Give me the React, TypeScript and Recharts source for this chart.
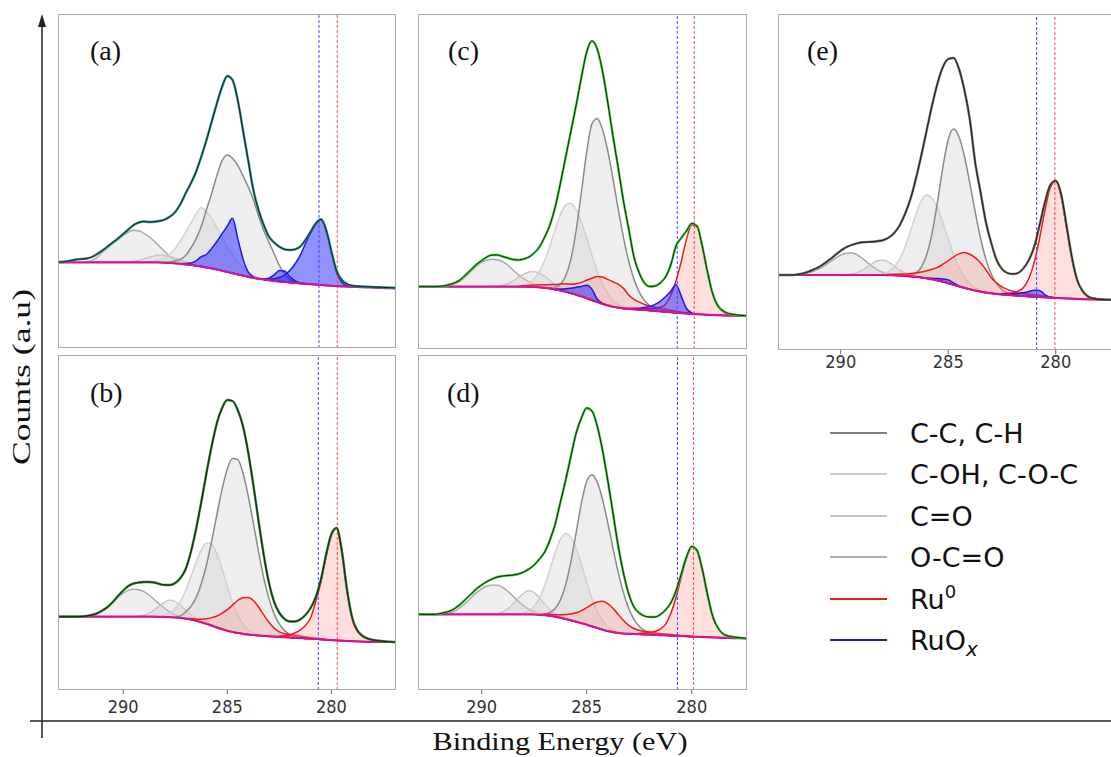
import React from "react";
import { ComposedChart, Area, Line, XAxis, YAxis, ReferenceLine } from "recharts";

type Pt = [number, number];

// binding energy grid (eV), left to right
const energy = [
  293.25, 293, 292.75, 292.5, 292.25, 292, 291.75, 291.5, 291.25, 291,
  290.75, 290.5, 290.25, 290, 289.75, 289.5, 289.25, 289, 288.75, 288.5,
  288.25, 288, 287.75, 287.5, 287.25, 287, 286.75, 286.5, 286.25, 286,
  285.75, 285.5, 285.25, 285, 284.75, 284.5, 284.25, 284, 283.75, 283.5,
  283.25, 283, 282.75, 282.5, 282.25, 282, 281.75, 281.5, 281.25, 281,
  280.75, 280.5, 280.25, 280, 279.75, 279.5, 279.25, 279, 278.75, 278.5,
  278.25, 278, 277.75, 277.5, 277.25, 277, 276.75,
];
const energyTicks = [290, 285, 280];

// ---------- (a) ----------
const bgA = [
  85.7, 85.7, 85.7, 85.7, 85.7, 85.7, 85.7, 85.7, 85.7, 85.7,
  85.7, 85.7, 85.7, 85.7, 85.7, 85.7, 85.7, 85.7, 85.7, 85.7,
  85.5, 85.3, 85, 84.6, 84.2, 83.6, 83, 82.2, 81.4, 80.5,
  79.6, 78.5, 77.3, 76, 74.8, 73.6, 72.4, 71.2, 70.2, 69.3,
  68.5, 67.8, 67.2, 66.5, 66, 65.5, 65, 64.6, 64.2, 63.8,
  63.4, 63, 62.6, 62.2, 61.9, 61.6, 61.4, 61.2, 61, 60.8,
  60.6, 60.4, 60.2, 60, 59.8, 59.7, 59.6,
];
const envA = [
  86, 86, 86.5, 87.5, 88.5, 89, 89.5, 91, 94, 97.5,
  101.5, 105.5, 109.5, 114, 118.5, 123, 125.5, 126.5, 126, 126.3,
  127, 128.5, 131.5, 136, 144, 154.7, 164.7, 176.3, 191.3, 208,
  226.3, 244.7, 261.3, 272, 268, 248, 218, 188, 158, 138,
  123, 111.3, 105.3, 101.3, 98.7, 98, 98.7, 101.3, 108, 116.3,
  124.7, 128.7, 118, 96.3, 77, 68, 64, 62.3, 61.8, 61.5,
  61.2, 61, 60.8, 60.6, 60.4, 60.2, 60,
];
const ocoA: Pt[] = [[291.75, 0.5], [291.5, 2], [291.25, 5], [291, 10], [290.75, 14.5], [290.5, 19], [290.25, 23], [290, 27], [289.75, 30], [289.5, 32], [289.25, 31.5], [289, 29], [288.75, 25.5], [288.5, 21], [288.25, 16], [288, 11], [287.75, 6.5], [287.5, 3.5], [287.25, 1.5], [287, 0]];
const coA: Pt[] = [[289.75, 0], [289.5, 1], [289.25, 2], [289, 3.5], [288.75, 5], [288.5, 6.5], [288.25, 7.5], [288, 7.3], [287.75, 6.5], [287.5, 5.3], [287.25, 4], [287, 2.7], [286.75, 1.6], [286.5, 0.8], [286.25, 0]];
const cohA: Pt[] = [[288.5, 1], [288.25, 2.5], [288, 5], [287.75, 9], [287.5, 15], [287.25, 23], [287, 32], [286.75, 42], [286.5, 52], [286.25, 59], [286, 56], [285.75, 50], [285.5, 42], [285.25, 33], [285, 25], [284.75, 19], [284.5, 13], [284.25, 8.5], [284, 5], [283.75, 2.5], [283.5, 1], [283.25, 0]];
const ccA: Pt[] = [[288, 0], [287.75, 1], [287.5, 2.5], [287.25, 4.5], [287, 9], [286.75, 17], [286.5, 27], [286.25, 40], [286, 58], [285.75, 75], [285.5, 94], [285.25, 110], [285, 117], [284.75, 115], [284.5, 109], [284.25, 100], [284, 90], [283.75, 78], [283.5, 63], [283.25, 49], [283, 38], [282.75, 27], [282.5, 16], [282.25, 8], [282, 3], [281.75, 1], [281.5, 0]];
const ruoxHighA: Pt[] = [[287.25, 0], [287, 1], [286.75, 2], [286.5, 5], [286.25, 10], [286, 13], [285.75, 20], [285.5, 28], [285.25, 37], [285, 46], [284.75, 55], [284.5, 36], [284.25, 17], [284, 5], [283.75, 1], [283.5, 0]];
const ruoxMidA: Pt[] = [[283.5, 0], [283.25, 0.5], [283, 2], [282.75, 6], [282.5, 11], [282.25, 11], [282, 6], [281.75, 2], [281.5, 0.5], [281.25, 0]];
const ruoxLowA: Pt[] = [[283.25, 0], [283, 1], [282.75, 2], [282.5, 4], [282.25, 7], [282, 12], [281.75, 19], [281.5, 28], [281.25, 40], [281, 51], [280.75, 60], [280.5, 65], [280.25, 54], [280, 34], [279.75, 13], [279.5, 4], [279.25, 1], [279, 0]];

// ---------- (b) ----------
const bgB = [
  73.3, 73.3, 73.3, 73.3, 73.3, 73.3, 73.3, 73.3, 73.3, 73.3,
  73.3, 73.3, 73.3, 73.3, 73.3, 73.3, 73.3, 73.3, 73.3, 73.3,
  73.2, 73, 72.8, 72.5, 72, 71.3, 70.5, 69.3, 67.8, 66.2,
  64.4, 62.5, 60.8, 59.3, 58, 57, 56.2, 55.5, 55, 54.5,
  54.1, 53.7, 53.4, 53.1, 52.8, 52.5, 52.2, 51.9, 51.6, 51.3,
  51, 50.6, 50.2, 49.9, 49.6, 49.3, 49, 48.8, 48.6, 48.4,
  48.2, 48.1, 48, 48, 48, 48, 48,
];
const envB = [
  73.3, 73.3, 73.3, 73.3, 73.3, 73.5, 74, 75, 76.7, 79.5,
  83, 88, 94, 99.5, 104, 106.5, 107.5, 108, 108, 107.5,
  106, 105, 105, 107, 112, 121, 138, 161, 188, 217,
  244, 267, 282, 290, 289, 280, 264, 238, 205, 169,
  135, 107, 88, 77, 71, 68.5, 68.5, 70.5, 75, 82,
  93, 111, 136, 156, 162, 139, 100, 72, 59.5, 54,
  51.3, 50, 49.3, 48.7, 48.3, 48, 48,
];
const ocoB: Pt[] = [[291.75, 0.5], [291.5, 1.5], [291.25, 3.5], [291, 6.5], [290.75, 9.5], [290.5, 14.5], [290.25, 19.5], [290, 23.5], [289.75, 26.3], [289.5, 27.4], [289.25, 27], [289, 25], [288.75, 21.5], [288.5, 17], [288.25, 12.5], [288, 8.5], [287.75, 5], [287.5, 2.5], [287.25, 1], [287, 0]];
const coB: Pt[] = [[289.25, 0.5], [289, 1.5], [288.75, 3.5], [288.5, 7], [288.25, 11], [288, 15], [287.75, 17], [287.5, 16], [287.25, 12.5], [287, 8.5], [286.75, 5], [286.5, 2.5], [286.25, 1], [286, 0]];
const cohB: Pt[] = [[288.25, 0.5], [288, 1.9], [287.75, 4.3], [287.5, 9], [287.25, 16.7], [287, 28], [286.75, 42.7], [286.5, 58.5], [286.25, 72.3], [286, 80.7], [285.75, 81.2], [285.5, 73.8], [285.25, 60.4], [285, 44.6], [284.75, 29.8], [284.5, 17.9], [284.25, 9.7], [284, 4.8], [283.75, 2.1], [283.5, 0.8], [283.25, 0]];
const ccB: Pt[] = [[287.5, 0.5], [287.25, 2], [287, 6.8], [286.75, 13], [286.5, 23], [286.25, 38.4], [286, 59], [285.75, 84.7], [285.5, 113], [285.25, 140], [285, 161.7], [284.75, 173.6], [284.5, 173.3], [284.25, 161], [284, 139], [283.75, 111.8], [283.5, 83.6], [283.25, 58], [283, 37.7], [282.75, 22.7], [282.5, 12.7], [282.25, 6.6], [282, 3.2], [281.75, 1.4], [281.5, 0.5], [281.25, 0]];
const ruHighB: Pt[] = [[287, 0], [286.75, 1], [286.5, 1.5], [286.25, 3], [286, 5], [285.75, 8], [285.5, 11.5], [285.25, 16], [285, 21], [284.75, 27], [284.5, 32.5], [284.25, 36], [284, 37], [283.75, 34.5], [283.5, 28.5], [283.25, 21], [283, 14], [282.75, 8.5], [282.5, 5], [282.25, 3.5], [282, 3], [281.75, 2.5], [281.5, 2], [281.25, 1.5], [281, 1], [280.75, 0.7], [280.5, 0.4], [280.25, 0.2], [280, 0]];
const ruLowB: Pt[] = [[282.5, 1], [282.25, 1.5], [282, 2.5], [281.75, 5], [281.5, 8], [281.25, 13], [281, 21], [280.75, 38], [280.5, 58], [280.25, 84], [280, 105], [279.75, 112.6], [279.5, 89], [279.25, 50], [279, 22], [278.75, 10], [278.5, 5], [278.25, 3], [278, 2], [277.75, 1.3], [277.5, 0.7], [277.25, 0.3], [277, 0]];

// ---------- (c) ----------
const bgC = [
  62.3, 62.3, 62.3, 62.3, 62.3, 62.3, 62.3, 62.3, 62.3, 62.3,
  62.3, 62.3, 62.3, 62.3, 62.3, 62.3, 62.3, 62.3, 62.3, 62.3,
  62.3, 62.3, 62.2, 62, 61.7, 61.2, 60.5, 59.6, 58.5, 57.2,
  55.8, 54.3, 52.6, 50.8, 48.8, 47, 45.2, 43.6, 42.3, 41.3,
  40.6, 40.1, 39.7, 39.3, 39, 38.6, 38.2, 37.7, 37.2, 36.8,
  36.3, 35.9, 35.5, 35.1, 34.8, 34.5, 34.2, 34, 33.8, 33.6,
  33.4, 33.3, 33.2, 33.1, 33, 33, 33,
];
const envC = [
  62.3, 62.3, 62.3, 62.3, 62.3, 62.6, 63.3, 64.5, 66.5, 69.5,
  74.5, 79.5, 84.5, 88.5, 92, 94, 94, 92.5, 91, 89.5,
  89, 90, 92, 96, 102, 112, 124, 142, 166, 192,
  218, 244, 272, 297, 308, 300, 278, 247, 213, 181,
  148, 120, 92, 76, 66, 62.5, 63, 66, 72, 84,
  103, 111, 118, 125.5, 123, 103, 77, 55, 43, 38,
  35.5, 34.5, 33.8, 33.4, 33.2, 33, 33,
];
const ocoC: Pt[] = [[291.75, 0.5], [291.5, 1.5], [291.25, 3], [291, 6], [290.75, 10.5], [290.5, 15.5], [290.25, 20.5], [290, 24.5], [289.75, 26.7], [289.5, 27.4], [289.25, 27], [289, 25], [288.75, 21.5], [288.5, 16.5], [288.25, 12], [288, 8], [287.75, 5], [287.5, 2.5], [287.25, 1], [287, 0]];
const coC: Pt[] = [[289.5, 0], [289.25, 0.5], [289, 1.5], [288.75, 3], [288.5, 6], [288.25, 9.5], [288, 12.5], [287.75, 14.8], [287.5, 15.3], [287.25, 14], [287, 11.5], [286.75, 8], [286.5, 5], [286.25, 2.5], [286, 1], [285.75, 0]];
const cohC: Pt[] = [[288.25, 0.5], [288, 1.7], [287.75, 4], [287.5, 8.4], [287.25, 16], [287, 27.5], [286.75, 42.8], [286.5, 60], [286.25, 76], [286, 87], [285.75, 90], [285.5, 85], [285.25, 74], [285, 60], [284.75, 45], [284.5, 31], [284.25, 19.7], [284, 11.6], [283.75, 6.3], [283.5, 3.2], [283.25, 1.5], [283, 0.6], [282.75, 0]];
const ccC: Pt[] = [[286.75, 0.5], [286.5, 2.1], [286.25, 6.3], [286, 15.8], [285.75, 34.4], [285.5, 64.7], [285.25, 104.8], [285, 146.3], [284.75, 176.3], [284.5, 183.5], [284.25, 174.5], [284, 154.7], [283.75, 128], [283.5, 98.8], [283.25, 71.1], [283, 47.8], [282.75, 30], [282.5, 17.5], [282.25, 9.6], [282, 4.9], [281.75, 2.3], [281.5, 1], [281.25, 0.4], [281, 0]];
const ruHighC: Pt[] = [[288.25, 0], [288, 1], [287.75, 1.5], [287.5, 2], [287.25, 2.5], [287, 3], [286.75, 4], [286.5, 5], [286.25, 6.5], [286, 8], [285.75, 9], [285.5, 11], [285.25, 14], [285, 18], [284.75, 22], [284.5, 25.5], [284.25, 26.7], [284, 26], [283.75, 25], [283.5, 23.5], [283.25, 20], [283, 14], [282.75, 10], [282.5, 7.5], [282.25, 5.5], [282, 4.5], [281.75, 3.5], [281.5, 3], [281.25, 2.5], [281, 2], [280.75, 1.5], [280.5, 1], [280.25, 0.5], [280, 0]];
const ruoxHighC: Pt[] = [[286.75, 0], [286.5, 0.5], [286.25, 1.5], [286, 3], [285.75, 5], [285.5, 7.5], [285.25, 10], [285, 13], [284.75, 11], [284.5, 3], [284.25, 0.5], [284, 0]];
const ruoxLowC: Pt[] = [[283.25, 0], [283, 0.5], [282.75, 1], [282.5, 1.5], [282.25, 2.5], [282, 4], [281.75, 6.5], [281.5, 10], [281.25, 15], [281, 21], [280.75, 28], [280.5, 17], [280.25, 5], [280, 1], [279.75, 0]];
const ruLowC: Pt[] = [[282.5, 0.5], [282.25, 1], [282, 1.6], [281.75, 2.5], [281.5, 4], [281.25, 7.5], [281, 17], [280.75, 32], [280.5, 51.5], [280.25, 74.4], [280, 89], [279.75, 87.4], [279.5, 68.4], [279.25, 42.5], [279, 21], [278.75, 9], [278.5, 3.5], [278.25, 1.5], [278, 0.8], [277.75, 0.4], [277.5, 0]];

// ---------- (d) ----------
const bgD = [
  75.7, 75.7, 75.7, 75.7, 75.7, 75.7, 75.7, 75.7, 75.7, 75.7,
  75.7, 75.7, 75.7, 75.7, 75.7, 75.7, 75.7, 75.7, 75.7, 75.7,
  75.7, 75.7, 75.7, 75.5, 75.2, 74.8, 74.2, 73.3, 72.2, 71,
  69.6, 68.2, 66.8, 65.3, 63.6, 62, 60.4, 58.9, 57.8, 57,
  56.5, 56.2, 56, 55.8, 55.6, 55.4, 55.2, 54.9, 54.7, 54.4,
  54.2, 54, 53.7, 53.4, 53.2, 53, 52.8, 52.6, 52.4, 52.2,
  52, 51.9, 51.8, 51.7, 51.7, 51.7, 51.7,
];
const envD = [
  75.7, 75.7, 75.7, 75.7, 75.7, 76.3, 77.5, 79, 82, 86,
  91, 96, 101, 105, 108.5, 111, 113, 114, 114.5, 115,
  116, 118, 121, 125, 131, 138, 150, 166, 188, 210,
  234, 257, 272, 282, 279, 264, 240, 210, 177, 144,
  117, 96, 83, 77, 74, 73, 73, 75.5, 80, 87,
  99, 116, 133, 143.5, 139.5, 121, 95.5, 73.5, 62, 56,
  54, 53, 52.3, 51.9, 51.7, 51.7, 51.7,
];
const ocoD: Pt[] = [[291.75, 0.5], [291.5, 1.5], [291.25, 3.5], [291, 7], [290.75, 11.5], [290.5, 16.5], [290.25, 21.5], [290, 25.5], [289.75, 28.3], [289.5, 29.2], [289.25, 29.2], [289, 27], [288.75, 23], [288.5, 18], [288.25, 13], [288, 8.5], [287.75, 5], [287.5, 2.5], [287.25, 1], [287, 0]];
const coD: Pt[] = [[289.5, 0.3], [289.25, 1], [289, 2.5], [288.75, 5.6], [288.5, 10.4], [288.25, 16.2], [288, 21.3], [287.75, 23.6], [287.5, 21.9], [287.25, 17.1], [287, 11.3], [286.75, 6.2], [286.5, 2.9], [286.25, 1.1], [286, 0.4], [285.75, 0]];
const cohD: Pt[] = [[288.25, 0.5], [288, 1.5], [287.75, 3.8], [287.5, 8.4], [287.25, 16.8], [287, 29.6], [286.75, 46.3], [286.5, 64], [286.25, 78.6], [286, 85.5], [285.75, 83], [285.5, 73.2], [285.25, 58.4], [285, 42.3], [284.75, 27.8], [284.5, 16.6], [284.25, 9], [284, 4.4], [283.75, 2], [283.5, 0.8], [283.25, 0]];
const ccD: Pt[] = [[287.25, 0.4], [287, 1.2], [286.75, 3.3], [286.5, 8.2], [286.25, 17.9], [286, 34.4], [285.75, 59], [285.5, 89.5], [285.25, 120.3], [285, 143.5], [284.75, 151.7], [284.5, 145.9], [284.25, 130.5], [284, 108.6], [283.75, 84.1], [283.5, 60.6], [283.25, 40.6], [283, 25.3], [282.75, 14.7], [282.5, 7.9], [282.25, 4], [282, 1.9], [281.75, 0.8], [281.5, 0.3], [281.25, 0]];
const ruHighD: Pt[] = [[287.25, 0], [287, 1], [286.75, 1.5], [286.5, 2], [286.25, 3], [286, 4.5], [285.75, 6.5], [285.5, 9], [285.25, 12.5], [285, 17], [284.75, 22], [284.5, 26], [284.25, 28.3], [284, 27.5], [283.75, 24], [283.5, 18.5], [283.25, 13], [283, 8.5], [282.75, 5.5], [282.5, 4], [282.25, 3], [282, 2.5], [281.75, 2], [281.5, 1.5], [281.25, 1.2], [281, 1], [280.75, 0.7], [280.5, 0.5], [280.25, 0.2], [280, 0]];
const ruLowD: Pt[] = [[282.5, 1], [282.25, 1.5], [282, 2.3], [281.75, 3.5], [281.5, 6], [281.25, 11], [281, 22], [280.75, 38], [280.5, 59], [280.25, 78.3], [280, 89.8], [279.75, 86.2], [279.5, 66.9], [279.25, 42], [279, 21.2], [278.75, 9.5], [278.5, 3.8], [278.25, 1.8], [278, 1], [277.75, 0.5], [277.5, 0]];

// ---------- (e) ----------
const bgE = [
  75, 75, 75, 75, 75, 75, 75, 75, 75, 75,
  75, 75, 75, 75, 75, 75, 75, 75, 75, 75,
  75, 75, 74.9, 74.7, 74.4, 74, 73.6, 73.1, 72.5, 71.7,
  70.7, 69.6, 68.3, 66.8, 65.2, 63.6, 62.1, 60.7, 59.4, 58.3,
  57.4, 56.7, 56.1, 55.6, 55.1, 54.7, 54.3, 54, 53.6, 53.3,
  53, 52.7, 52.4, 52.1, 51.8, 51.6, 51.3, 51.1, 50.9, 50.7,
  50.5, 50.3, 50.2, 50.1, 50, 50, 50,
];
const envE = [
  75, 75, 75, 75, 75, 75.6, 76.7, 78.3, 80.7, 83.3,
  86.7, 90.7, 95, 99.3, 102.7, 105, 106.7, 107.7, 108, 108.3,
  109, 110, 112.7, 117.3, 125, 136.7, 151.7, 171.7, 195, 220,
  245, 266.7, 283, 291, 292, 281, 260, 231, 188, 158,
  128, 107, 90, 81, 77, 76, 77, 81.7, 90, 103.3,
  125, 148, 165, 169.3, 156, 125, 93, 70, 59, 53.5,
  51.5, 50.8, 50.4, 50.2, 50, 50, 50,
];
const ocoE: Pt[] = [[292, 0.5], [291.75, 1.2], [291.5, 2.2], [291.25, 3.9], [291, 6.3], [290.75, 9.4], [290.5, 13], [290.25, 16.7], [290, 19.9], [289.75, 21.7], [289.5, 22.2], [289.25, 20.4], [289, 16.7], [288.75, 12.3], [288.5, 8.1], [288.25, 4.7], [288, 2.5], [287.75, 1.2], [287.5, 0.5], [287.25, 0]];
const coE: Pt[] = [[289.75, 0.4], [289.5, 1], [289.25, 2.4], [289, 4.9], [288.75, 8.3], [288.5, 12], [288.25, 14.5], [288, 14.8], [287.75, 12.7], [287.5, 9.1], [287.25, 5.5], [287, 2.8], [286.75, 1.2], [286.5, 0.5], [286.25, 0]];
const cohE: Pt[] = [[288.25, 0.5], [288, 1.5], [287.75, 3.8], [287.5, 8.5], [287.25, 16.7], [287, 29.4], [286.75, 45.7], [286.5, 63], [286.25, 76.9], [286, 83.3], [285.75, 80.9], [285.5, 72], [285.25, 58.8], [285, 44], [284.75, 30.3], [284.5, 19.1], [284.25, 11], [284, 5.8], [283.75, 2.8], [283.5, 1.2], [283.25, 0.5], [283, 0]];
const ccE: Pt[] = [[287, 0.4], [286.75, 1.3], [286.5, 4], [286.25, 10.5], [286, 23.8], [285.75, 46.5], [285.5, 78.6], [285.25, 114.5], [285, 143.7], [284.75, 155.7], [284.5, 149.6], [284.25, 131.9], [284, 106.6], [283.75, 79], [283.5, 53.7], [283.25, 33.5], [283, 19.2], [282.75, 10], [282.5, 4.8], [282.25, 2.1], [282, 0.9], [281.75, 0.3], [281.5, 0]];
const ruHighE: Pt[] = [[288, 0], [287.75, 0.5], [287.5, 1], [287.25, 1.5], [287, 2], [286.75, 3], [286.5, 4], [286.25, 5.5], [286, 7.5], [285.75, 10], [285.5, 13], [285.25, 17.5], [285, 22.5], [284.75, 28], [284.5, 32.5], [284.25, 35.3], [284, 35], [283.75, 33], [283.5, 29], [283.25, 23], [283, 15.5], [282.75, 11], [282.5, 7.5], [282.25, 5.5], [282, 4], [281.75, 3], [281.5, 2.5], [281.25, 2.2], [281, 2], [280.75, 1.5], [280.5, 1], [280.25, 0.5], [280, 0]];
const ruoxHighE: Pt[] = [[286.25, 0], [286, 0.3], [285.75, 1], [285.5, 1.8], [285.25, 2.6], [285, 3.3], [284.75, 2], [284.5, 0.5], [284.25, 0]];
const ruoxLowE: Pt[] = [[282.75, 0], [282.5, 0.5], [282.25, 1], [282, 1.5], [281.75, 2.3], [281.5, 3.3], [281.25, 4.8], [281, 6.5], [280.75, 6.5], [280.5, 2.5], [280.25, 0.5], [280, 0]];
const ruLowE: Pt[] = [[282.5, 1], [282.25, 1.5], [282, 2.6], [281.75, 4.5], [281.5, 8.6], [281.25, 17.9], [281, 34.6], [280.75, 59], [280.5, 87.3], [280.25, 110.2], [280, 117], [279.75, 101.5], [279.5, 71], [279.25, 40.2], [279, 18.3], [278.75, 7.8], [278.5, 3], [278.25, 1.5], [278, 0.8], [277.75, 0.4], [277.5, 0]];

const legendItems = [
  { label: "C-C, C-H", sup: "", sub: "", color: "#7f7f7f" },
  { label: "C-OH, C-O-C", sup: "", sub: "", color: "#cccccc" },
  { label: "C=O", sup: "", sub: "", color: "#c2c2c2" },
  { label: "O-C=O", sup: "", sub: "", color: "#b0b0b0" },
  { label: "Ru", sup: "0", sub: "", color: "#ee1c1c" },
  { label: "RuO", sup: "", sub: "x", color: "#1a1ad6" },
];

const looks: Record<string, { stroke: string; fill: string; op: number; w: number }> = {
  oco: { stroke: "#a6a6a6", fill: "#cdcdcd", op: 0.35, w: 1.4 },
  co: { stroke: "#c4c4c4", fill: "#cdcdcd", op: 0.35, w: 1.3 },
  coh: { stroke: "#d0d0d0", fill: "#cdcdcd", op: 0.35, w: 1.4 },
  cc: { stroke: "#8a8a8a", fill: "#cdcdcd", op: 0.35, w: 1.5 },
  ru: { stroke: "#ee1c1c", fill: "#ff8a8a", op: 0.28, w: 1.5 },
  ruox: { stroke: "#1a1ae0", fill: "#2424ff", op: 0.5, w: 1.5 },
};

type PanelSpec = {
  tag: string;
  left: number;
  top: number;
  width: number;
  height: number;
  domain: [number, number];
  labels: boolean;
  tickGap: number;
  marks: [number, number];
  dataColor: string;
  bg: number[];
  env: number[];
  parts: [string, Pt[]][];
};

const panels: PanelSpec[] = [
  { tag: "(a)", left: 58, top: 14, width: 338, height: 334, domain: [276.9, 293.13], labels: false, tickGap: 0, marks: [280.6, 279.72], dataColor: "#2b8c8c", bg: bgA, env: envA,
    parts: [["oco", ocoA], ["co", coA], ["coh", cohA], ["cc", ccA], ["ruox", ruoxHighA], ["ruox", ruoxMidA], ["ruox", ruoxLowA]] },
  { tag: "(b)", left: 58, top: 355, width: 338, height: 335, domain: [276.9, 293.13], labels: true, tickGap: 6, marks: [280.63, 279.72], dataColor: "#2f7f2f", bg: bgB, env: envB,
    parts: [["oco", ocoB], ["co", coB], ["coh", cohB], ["cc", ccB], ["ru", ruHighB], ["ru", ruLowB]] },
  { tag: "(c)", left: 418, top: 14, width: 329, height: 335, domain: [277.37, 293.03], labels: false, tickGap: 0, marks: [280.69, 279.88], dataColor: "#3ad13a", bg: bgC, env: envC,
    parts: [["oco", ocoC], ["co", coC], ["coh", cohC], ["cc", ccC], ["ru", ruHighC], ["ru", ruLowC], ["ruox", ruoxHighC], ["ruox", ruoxLowC]] },
  { tag: "(d)", left: 418, top: 355, width: 329, height: 335, domain: [277.37, 293.03], labels: true, tickGap: 6, marks: [280.68, 279.92], dataColor: "#35c935", bg: bgD, env: envD,
    parts: [["oco", ocoD], ["co", coD], ["coh", cohD], ["cc", ccD], ["ru", ruHighD], ["ru", ruLowD]] },
  { tag: "(e)", left: 778, top: 14, width: 336, height: 336, domain: [277.29, 292.92], labels: true, tickGap: 1, marks: [280.89, 280.04], dataColor: "#6e6e5a", bg: bgE, env: envE,
    parts: [["oco", ocoE], ["co", coE], ["coh", cohE], ["cc", ccE], ["ru", ruHighE], ["ru", ruLowE], ["ruox", ruoxHighE], ["ruox", ruoxLowE]] },
];

function Panel({ p }: { p: PanelSpec }) {
  const rows = energy.map((e, i) => {
    const row: Record<string, any> = { e, bg: p.bg[i], env: p.env[i] };
    p.parts.forEach(([, pts], j) => {
      const hit = pts.find((q) => q[0] === e);
      row["p" + j] = hit ? [p.bg[i], p.bg[i] + hit[1]] : [null, null];
    });
    return row;
  });
  const axisH = p.labels ? 30 : 0;

  return (
    <div style={{ position: "absolute", left: p.left, top: p.top }}>
      <ComposedChart width={p.width} height={p.height + axisH} data={rows} margin={{ top: 0, right: 0, bottom: 0, left: 0 }}>
        <XAxis
          dataKey="e"
          type="number"
          domain={p.domain}
          reversed
          allowDataOverflow
          ticks={energyTicks}
          hide={!p.labels}
          height={axisH}
          axisLine={false}
          tickLine={{ stroke: "#666" }}
          tickSize={4}
          tickMargin={p.tickGap}
          tick={{ fontSize: 18, fill: "#333", fontFamily: "'DejaVu Sans Condensed', 'DejaVu Sans'" }}
        />
        <YAxis hide type="number" domain={[0, p.height]} allowDataOverflow />
        <ReferenceLine x={p.marks[0]} stroke="#4646ff" strokeDasharray="3 2" />
        <ReferenceLine x={p.marks[1]} stroke="#ff4646" strokeDasharray="3 2" />
        {p.parts.map(([kind], j) => {
          const s = looks[kind];
          return (
            <Area
              key={j}
              dataKey={"p" + j}
              type="monotone"
              stroke={s.stroke}
              strokeWidth={s.w}
              fill={s.fill}
              fillOpacity={s.op}
              dot={false}
              activeDot={false}
              isAnimationActive={false}
            />
          );
        })}
        <Line dataKey="bg" type="monotone" stroke="#d6138e" strokeWidth={2.2} dot={false} isAnimationActive={false} />
        <Line dataKey="env" type="monotone" stroke={p.dataColor} strokeWidth={2.4} dot={false} isAnimationActive={false} />
        <Line dataKey="env" type="monotone" stroke="#1c1c1c" strokeWidth={1} dot={false} isAnimationActive={false} />
      </ComposedChart>
      <div
        style={{
          position: "absolute",
          left: 0,
          top: 0,
          width: p.width,
          height: p.height,
          border: "1px solid #a8a8a8",
          boxSizing: "border-box",
          pointerEvents: "none",
        }}
      />
    </div>
  );
}

export default function App() {
  const legendY = [433, 474, 516, 557, 599, 640];
  const tagPos = [[90, 60], [90, 402], [448, 60], [447, 402], [807, 60]];

  return (
    <div style={{ position: "absolute", left: 0, top: 0, width: 1111, height: 757, overflow: "hidden", background: "#fff" }}>
      {panels.map((p) => (
        <Panel key={p.tag} p={p} />
      ))}
      <svg width={1111} height={757} style={{ position: "absolute", left: 0, top: 0, pointerEvents: "none" }}>
        <line x1={42} y1={24} x2={42} y2={738} stroke="#222" strokeWidth={1.5} />
        <polygon points="42,14 38,27 46,27" fill="#222" />
        <line x1={30} y1={721} x2={1111} y2={721} stroke="#222" strokeWidth={1.5} />
        <text x={560} y={750} textAnchor="middle" fontFamily="'Liberation Serif'" fontSize={26} fill="#111" textLength={255} lengthAdjust="spacingAndGlyphs">
          Binding Energy (eV)
        </text>
        <text transform="translate(30,377) rotate(-90)" textAnchor="middle" fontFamily="'Liberation Serif'" fontSize={26} fill="#111" textLength={176} lengthAdjust="spacingAndGlyphs">
          Counts (a.u)
        </text>
        {panels.map((p, i) => (
          <text key={p.tag} x={tagPos[i][0]} y={tagPos[i][1]} fontFamily="'Liberation Serif'" fontSize={28} fill="#111">
            {p.tag}
          </text>
        ))}
        {legendItems.map((it, i) => (
          <g key={it.label + i}>
            <line x1={830} y1={legendY[i]} x2={887} y2={legendY[i]} stroke={it.color} strokeWidth={2.2} />
            <text x={910} y={legendY[i] + 10} fontFamily="'DejaVu Sans'" fontSize={27} fill="#111">
              {it.label}
              {it.sup && (
                <tspan dy={-11} fontSize={18}>
                  {it.sup}
                </tspan>
              )}
              {it.sub && (
                <tspan dy={6} fontSize={20} fontStyle="italic">
                  {it.sub}
                </tspan>
              )}
            </text>
          </g>
        ))}
      </svg>
    </div>
  );
}
